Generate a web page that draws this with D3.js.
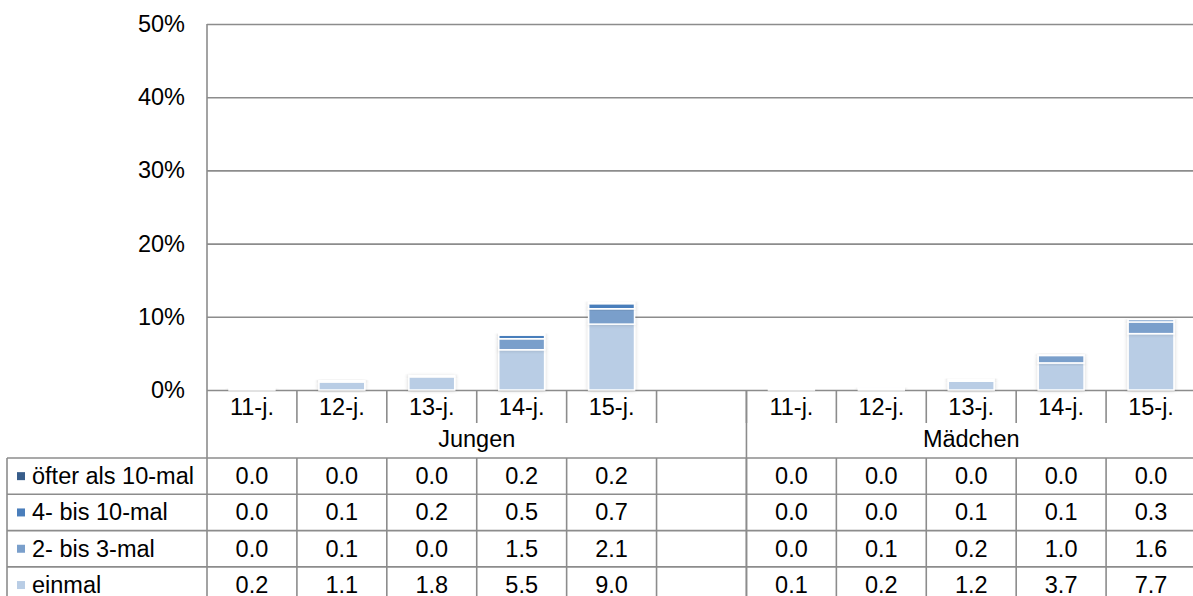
<!DOCTYPE html>
<html>
<head>
<meta charset="utf-8">
<script src="https://cdn.jsdelivr.net/npm/d3@7"></script>
<style>
  body { margin: 0; background: #fff; }
  text { font-family: "Liberation Sans", Arial, sans-serif; fill: #000; }
</style>
</head>
<body>
<svg id="chart" width="1193" height="596"></svg>
<script>
// data
var ages = ["11-j.", "12-j.", "13-j.", "14-j.", "15-j."];
var groups = ["Jungen", "Mädchen"];
var seriesNames = ["öfter als 10-mal", "4- bis 10-mal", "2- bis 3-mal", "einmal"];
var seriesColors = ["#385D8A", "#4A7EBB", "#7A9FCB", "#B9CDE5"];
// values per series: Jungen 11..15, Mädchen 11..15
var oefter  = [0.0, 0.0, 0.0, 0.2, 0.2,  0.0, 0.0, 0.0, 0.0, 0.0];
var vierBis = [0.0, 0.1, 0.2, 0.5, 0.7,  0.0, 0.0, 0.1, 0.1, 0.3];
var zweiBis = [0.0, 0.1, 0.0, 1.5, 2.1,  0.0, 0.1, 0.2, 1.0, 1.6];
var einmal  = [0.2, 1.1, 1.8, 5.5, 9.0,  0.1, 0.2, 1.2, 3.7, 7.7];
var yTicks = [0, 10, 20, 30, 40, 50];

var seriesValues = [oefter, vierBis, zweiBis, einmal];

var svg = d3.select("#chart");
var plotL = 207, plotR = 1196, plotT = 24, plotB = 390;
var lineCol = "#8c8c8c";
var fs = 23.5;

// slots: 5 Jungen + empty + 5 Mädchen
var slots = [];
ages.forEach(function(a) { slots.push("J|" + a); });
slots.push("J|gap");
ages.forEach(function(a) { slots.push("M|" + a); });

var x = d3.scaleBand().domain(slots).range([plotL, plotR]).padding(0);
var y = d3.scaleLinear().domain([0, 50]).range([plotB, plotT]);
var bw = x.bandwidth();

// rows for stacking
var rows = [];
groups.forEach(function(g, gi) {
  ages.forEach(function(a, ai) {
    var idx = gi * 5 + ai;
    rows.push({
      slot: (gi === 0 ? "J|" : "M|") + a,
      einmal: einmal[idx], zwei: zweiBis[idx], vier: vierBis[idx], oefter: oefter[idx]
    });
  });
});
var keys = ["einmal", "zwei", "vier", "oefter"];
var keyColor = { einmal: seriesColors[3], zwei: seriesColors[2], vier: seriesColors[1], oefter: seriesColors[0] };
var stacked = d3.stack().keys(keys)(rows);

// shadow filter
var defs = svg.append("defs");
var f = defs.append("filter").attr("id", "shadow").attr("x", "-30%").attr("y", "-30%").attr("width", "160%").attr("height", "160%");
f.append("feGaussianBlur").attr("in", "SourceAlpha").attr("stdDeviation", 2).attr("result", "b");
f.append("feComponentTransfer").attr("in", "b").attr("result", "b2")
  .append("feFuncA").attr("type", "linear").attr("slope", 0.18);
var m = f.append("feMerge");
m.append("feMergeNode").attr("in", "b2");
m.append("feMergeNode").attr("in", "SourceGraphic");

// grid lines + y labels
var yAxis = svg.append("g")
  .attr("transform", "translate(" + plotL + ",0)")
  .call(d3.axisLeft(y).tickValues(yTicks).tickSize(-(plotR - plotL)).tickPadding(22)
    .tickFormat(function(d) { return d + "%"; }));
yAxis.select(".domain").remove();
yAxis.selectAll(".tick line").attr("stroke", lineCol).attr("stroke-width", 1.6);
yAxis.selectAll(".tick text").style("font-size", fs + "px")
  .style("font-family", "'Liberation Sans', Arial, sans-serif").attr("fill", "#000");

// bars
var barW = bw * 0.51;
var barG = svg.append("g");
stacked.forEach(function(layer) {
  barG.append("g").selectAll("rect").data(layer).enter().append("rect")
    .attr("x", function(d) { return x(d.data.slot) + (bw - barW) / 2; })
    .attr("y", function(d) { return y(d[1]); })
    .attr("width", barW)
    .attr("height", function(d) { return Math.max(0, y(d[0]) - y(d[1])); })
    .attr("fill", keyColor[layer.key])
    .attr("stroke", "#fff")
    .attr("stroke-width", 1.5)
    .attr("filter", "url(#shadow)");
});

// table
var catBottom = 423, groupBottom = 458, rowH = 36.3;
var tbl = svg.append("g");
function hline(x1, x2, yy) {
  tbl.append("line").attr("x1", x1).attr("x2", x2).attr("y1", yy).attr("y2", yy)
    .attr("stroke", lineCol).attr("stroke-width", 1.6);
}
function vline(xx, y1, y2) {
  tbl.append("line").attr("x1", xx).attr("x2", xx).attr("y1", y1).attr("y2", y2)
    .attr("stroke", lineCol).attr("stroke-width", 1.6);
}
// left axis line
vline(plotL, plotT, 600);
// category dividers
slots.forEach(function(s, i) {
  if (i > 0) vline(x(s), plotB, catBottom);
});
// group divider
vline(x("M|" + ages[0]), plotB, 600);
// data rows
hline(7, plotR, groupBottom);
for (var r = 1; r <= 4; r++) hline(7, plotR, groupBottom + r * rowH);
vline(7, groupBottom, 600);
slots.forEach(function(s, i) {
  if (i > 0) vline(x(s), groupBottom, 600);
});

// category labels
slots.forEach(function(s) {
  var lab = s.split("|")[1];
  if (lab === "gap") return;
  tbl.append("text").attr("x", x(s) + bw / 2).attr("y", 415)
    .attr("text-anchor", "middle").style("font-size", fs + "px").text(lab);
});
// group labels
tbl.append("text").attr("x", (plotL + x("M|" + ages[0])) / 2).attr("y", 447)
  .attr("text-anchor", "middle").style("font-size", fs + "px").text(groups[0]);
tbl.append("text").attr("x", (x("M|" + ages[0]) + plotR) / 2).attr("y", 447)
  .attr("text-anchor", "middle").style("font-size", fs + "px").text(groups[1]);

// legend + values
seriesNames.forEach(function(name, si) {
  var cy = groupBottom + si * rowH + rowH / 2;
  tbl.append("rect").attr("x", 17).attr("y", cy - 4).attr("width", 8).attr("height", 8)
    .attr("fill", seriesColors[si]);
  tbl.append("text").attr("x", 32).attr("y", cy + 8).style("font-size", fs + "px").text(name);
  seriesValues[si].forEach(function(v, vi) {
    var s = (vi < 5 ? "J|" : "M|") + ages[vi % 5];
    tbl.append("text").attr("x", x(s) + bw / 2).attr("y", cy + 8)
      .attr("text-anchor", "middle").style("font-size", fs + "px").text(v.toFixed(1));
  });
});
</script>
</body>
</html>
